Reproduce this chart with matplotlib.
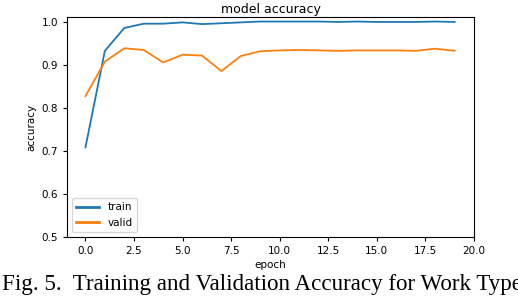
import matplotlib
matplotlib.use("Agg")
import matplotlib.pyplot as plt

epochs = list(range(20))
train_acc = [0.708, 0.932, 0.985, 0.995, 0.995, 0.998, 0.994, 0.996, 0.998, 1.0,
             1.0, 1.0, 1.0, 0.999, 1.0, 0.999, 0.999, 0.999, 1.0, 0.999]
valid_acc = [0.827, 0.907, 0.938, 0.934, 0.905, 0.923, 0.921, 0.885, 0.920, 0.931,
             0.933, 0.934, 0.933, 0.932, 0.933, 0.933, 0.933, 0.932, 0.937, 0.932]
x_ticks = [0.0, 2.5, 5.0, 7.5, 10.0, 12.5, 15.0, 17.5, 20.0]
y_ticks = [0.5, 0.6, 0.7, 0.8, 0.9, 1.0]
caption = "Fig. 5.  Training and Validation Accuracy for Work Type"

fig = plt.figure(figsize=(5.18, 3.02), dpi=100)
ax = fig.add_axes([67/518, 1 - 237/302, (474 - 67)/518, (237 - 17)/302])
ax.plot(epochs, train_acc, color="#1f77b4", lw=1.3, label="train")
ax.plot(epochs, valid_acc, color="#ff7f0e", lw=1.3, label="valid")
ax.set_xlim(-0.95, 20)
ax.set_ylim(0.5, 1.0105)
ax.set_xticks(x_ticks)
ax.set_yticks(y_ticks)
ax.set_xticklabels([f"{v:.1f}" for v in x_ticks])
ax.set_yticklabels([f"{v:.1f}" for v in y_ticks])
ax.tick_params(labelsize=7.5, length=3)
ax.set_title("model accuracy", fontsize=9, pad=3)
ax.set_xlabel("epoch", fontsize=7.5, labelpad=3)
ax.set_ylabel("accuracy", fontsize=7.5, labelpad=4)
leg = ax.legend(loc="lower left", fontsize=7.5, handlelength=2.2)
for line in leg.get_lines():
    line.set_linewidth(2.0)
fig.text(2/518, 1 - 290/302, caption, family="Liberation Serif", fontsize=16.6,
         ha="left", va="baseline")
fig.savefig("out.png", dpi=100)
